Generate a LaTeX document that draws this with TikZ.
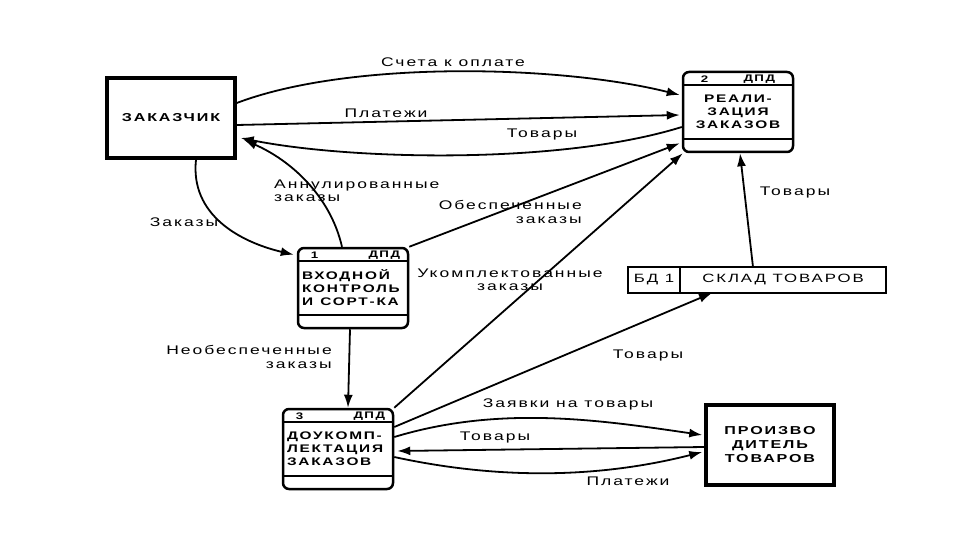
\documentclass[tikz,border=0pt]{standalone}
\usepackage{fontspec}
\setmainfont{Liberation Sans}[FakeStretch=1.4,LetterSpace=16]
\usetikzlibrary{arrows.meta,positioning,calc}
\tikzset{%
  extBox/.style={%
    rectangle,
    draw=black,
    line width=3.5pt,
    minimum width=128pt,
    minimum height=80pt,
    align=center,
    font=\bfseries\fontsize{11.5}{14}\selectfont
  },
  dpdBox/.style={%
    rectangle,
    rounded corners=6pt,
    draw=black,
    line width=2.5pt,
    minimum width=110pt,
    minimum height=80pt,
    text width=102pt,
    align=left,
    font=\bfseries\fontsize{11}{13}\selectfont
  },
  dpdLine/.style={line width=2.2pt},
  dpdHead/.style={inner sep=0pt, font=\bfseries\fontsize{9.5}{10}\selectfont},
  storeBox/.style={%
    rectangle,
    draw=black,
    line width=2.2pt,
    outer sep=0pt,
    minimum height=26pt,
    font=\fontsize{12}{13}\selectfont
  },
  flowArrow/.style={%
    -{Latex[length=13pt,width=9pt]},
    line width=1.8pt
  },
  flowLabel/.style={%
    inner sep=1pt,
    font=\fontsize{12.5}{13.5}\selectfont
  }
}
\begin{document}
\begin{tikzpicture}[x=1pt,y=-1pt]
  \useasboundingbox (0,0) rectangle (960,540);

  % external entities
  \node[extBox] (zakaz) at (171,118) {ЗАКАЗЧИК};
  \node[extBox] (maker) at (770,445) {ПРОИЗВО\\ДИТЕЛЬ\\ТОВАРОВ};

  % processes
  \node[dpdBox, align=center] (p2) at (738,112) {РЕАЛИ-\\ЗАЦИЯ\\ЗАКАЗОВ};
  \node[dpdBox] (p1) at (353,288) {ВХОДНОЙ\\КОНТРОЛЬ\\И~~СОРТ-КА};
  \node[dpdBox] (p3) at (338,449) {ДОУКОМП-\\ЛЕКТАЦИЯ\\ЗАКАЗОВ};
  \foreach \p/\n/\dl/\dr in {p1/1/14/9, p2/2/19/19, p3/3/14/9} {
    \draw[dpdLine] ($(\p.north west)+(0,14)$) -- ($(\p.north east)+(0,14)$);
    \draw[dpdLine] ($(\p.south west)+(0,-14)$) -- ($(\p.south east)+(0,-14)$);
    \node[dpdHead, anchor=west] (\p num) at ($(\p.north west)+(\dl,8)$) {\n};
    \node[dpdHead, anchor=east] (\p tag) at ($(\p.north east)+(-\dr,8)$) {ДПД};
  }

  % data store
  \node[storeBox, minimum width=52pt] (bd1) at (654,280) {БД 1};
  \node[storeBox, minimum width=206pt, right=0pt of bd1] (sklad) {СКЛАД ТОВАРОВ};

  % flows between customer and p2
  \draw[flowArrow] ($(zakaz.east)+(0,-15)$) .. controls (350,60) and (560,65) .. ($(p2.west)+(-2,-17)$);
  \draw[flowArrow] ($(zakaz.east)+(0,7)$) -- ($(p2.west)+(-2,3)$);
  \draw[flowArrow] ($(p2.west)+(0,15)$) .. controls (560,165) and (350,160) .. ($(zakaz.east)+(4,20)$);
  \node[flowLabel] (lblBills) at (453,62) {Счета к оплате};
  \node[flowLabel] (lblPay) at (386,113) {Платежи};
  \node[flowLabel] (lblGoods1) at (542,134) {Товары};

  % flows around p1
  \draw[flowArrow] ($(zakaz.south)+(25,0)$) .. controls (190,215) and (240,242) .. ($(p1.north west)+(-3,8)$);
  \draw[flowArrow] ($(p1.north)+(-11,0)$) .. controls (330,195) and (290,160) .. ($(zakaz.south east)+(7,-20)$);
  \draw[flowArrow] (p1.north east) -- ($(p2.south west)+(-2,-10)$);
  \draw[flowArrow] ($(p1.south)+(-3,0)$) -- ($(p3.north)+(10,0)$);
  \node[flowLabel] (lblOrders) at (184,222) {Заказы};
  \node[flowLabel, anchor=west, align=left] (lblCancel) at (273,191) {Аннулированные\\заказы};
  \node[flowLabel, anchor=east, align=right] (lblSecured) at (583,212) {Обеспеченные\\заказы};
  \node[flowLabel, anchor=east, align=right] (lblUnsecured) at (333,357) {Необеспеченные\\заказы};

  % flows around p3 and the store
  \draw[flowArrow] (p3.north east) -- ($(p2.south west)+(1,0)$);
  \draw[flowArrow] ($(sklad.north)+(-30,0)$) -- ($(p2.south)+(2,0)$);
  \draw[flowArrow] ($(p3.east)+(0,-22)$) -- ($(sklad.south)+(-71,0)$);
  \node[flowLabel, align=center] (lblComplete) at (510,280) {Укомплектованные\\заказы};
  \node[flowLabel] (lblGoods2) at (795,192) {Товары};
  \node[flowLabel] (lblGoods3) at (648,355) {Товары};

  % flows between p3 and the producer
  \draw[flowArrow] ($(p3.east)+(0,-12)$) .. controls (500,405) and (600,420) .. ($(maker.west)+(-2,-10)$);
  \draw[flowArrow] ($(maker.west)+(0,2)$) -- ($(p3.east)+(3,2)$);
  \draw[flowArrow] ($(p3.east)+(0,8)$) .. controls (500,480) and (600,478) .. ($(maker.west)+(-2,7)$);
  \node[flowLabel] (lblRequest) at (568,404) {Заявки на товары};
  \node[flowLabel] (lblGoods4) at (495,437) {Товары};
  \node[flowLabel] (lblPay2) at (628,481) {Платежи};
\end{tikzpicture}
\end{document}
